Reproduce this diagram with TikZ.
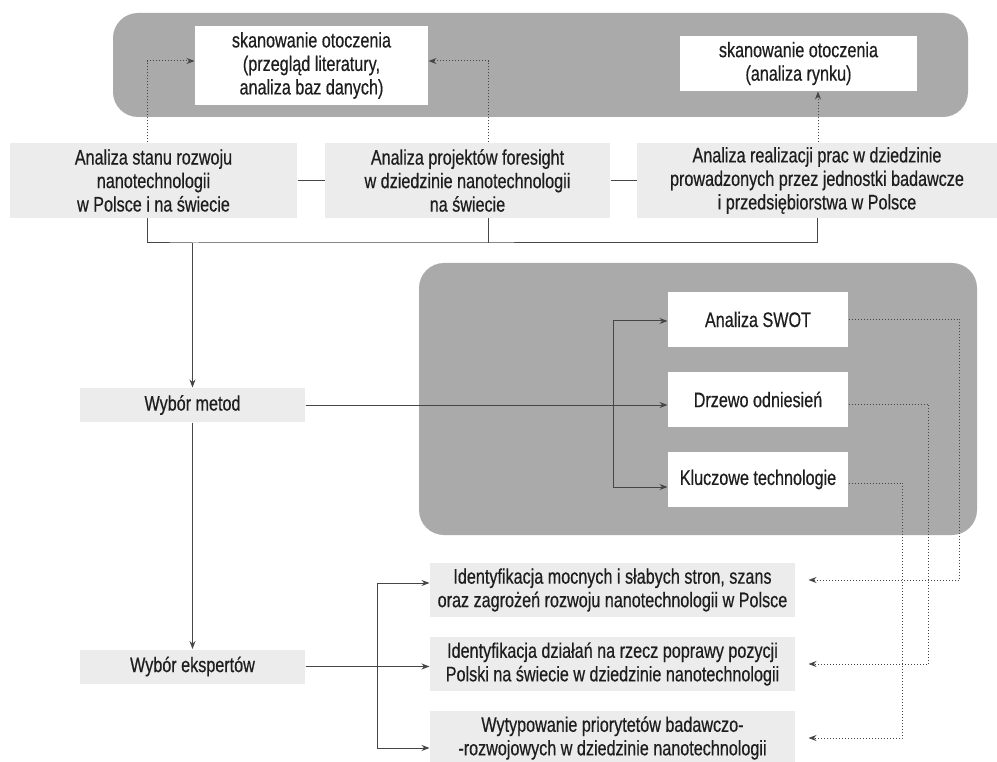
\documentclass[tikz,border=0pt]{standalone}
\usepackage{fontspec}
\setmainfont{Liberation Sans}[FakeStretch=0.77,FakeBold=0.5]
\usetikzlibrary{arrows.meta}
\definecolor{pasek}{RGB}{170,170,170}
\definecolor{jasny}{RGB}{236,236,236}
\definecolor{linia}{RGB}{70,70,70}
\definecolor{tekst}{RGB}{30,30,30}

\begin{document}
\begin{tikzpicture}[x=1pt,y=-1pt,>={Stealth[length=8pt,width=6pt]},
                    line width=1pt,draw=linia]
  \tikzstyle{every node}=[font=\fontsize{21}{23.5}\selectfont,text=tekst,
                          align=center,inner sep=0pt]
  \tikzstyle{bialy}=[fill=white,minimum height=55pt]
  \tikzstyle{blady}=[fill=jasny]
  \tikzstyle{kropki}=[->,dotted,linia]
  \useasboundingbox (0,0) rectangle (997,762);

  % szare tla
  \fill[pasek,rounded corners=25pt] (113,13) rectangle (968,117);
  \fill[pasek,rounded corners=25pt] (419,263) rectangle (977,535);

  \node (s1) [bialy,minimum width=233pt,minimum height=79pt] at (311.5,65.5)
    {skanowanie otoczenia\\(przegląd literatury,\\analiza baz danych)};
  \node (s2) [bialy,minimum width=237pt] at (798.5,63.5)
    {skanowanie otoczenia\\(analiza rynku)};

  \node (a1) [blady,minimum width=287pt,minimum height=75pt] at (153.5,180.5)
    {Analiza stanu rozwoju\\nanotechnologii\\w Polsce i na świecie};
  \node (a2) [blady,minimum width=285pt,minimum height=75pt] at (467.5,180.5)
    {Analiza projektów foresight\\w dziedzinie nanotechnologii\\na świecie};
  \node (a3) [blady,minimum width=360pt,minimum height=75pt] at (817,180.5)
    {Analiza realizacji prac w dziedzinie\\prowadzonych przez jednostki badawcze\\i przedsiębiorstwa w Polsce};

  \node (m) [blady,minimum width=225pt,minimum height=34pt] at (192.5,405) {Wybór metod};
  \node (e) [blady,minimum width=225pt,minimum height=34pt] at (192.5,666.5) {Wybór ekspertów};

  \node (sw) [bialy,minimum width=180pt] at (758,319.5) {Analiza SWOT};
  \node (dr) [bialy,minimum width=180pt] at (758,399.5) {Drzewo odniesień};
  \node (kt) [bialy,minimum width=180pt] at (758,479.5) {Kluczowe technologie};

  \node (i1) [blady,minimum width=365pt,minimum height=54pt] at (612.5,590)
    {Identyfikacja mocnych i słabych stron, szans\\oraz zagrożeń rozwoju nanotechnologii w Polsce};
  \node (i2) [blady,minimum width=365pt,minimum height=54pt] at (612.5,664)
    {Identyfikacja działań na rzecz poprawy pozycji\\Polski na świecie w dziedzinie nanotechnologii};
  \node (i3) [blady,minimum width=365pt,minimum height=54pt] at (612.5,738)
    {Wytypowanie priorytetów badawczo-\\-rozwojowych w dziedzinie nanotechnologii};

  \coordinate (j) at (192.5,243);
  \coordinate (k) at (613,405);
  \coordinate (n) at (377,667);

  \draw (a1) -- (a2);
  \draw (a2) -- (a3);
  \draw ([xshift=-6.5pt]a1.south) |- (j) -| (a3.south);
  \draw ([xshift=20.5pt]a2.south) -- ([xshift=20.5pt]a2.south |- j);
  \draw[->] (j) -- (m);
  \draw[->] (m) -- (e);

  \draw[kropki] ([xshift=-6.5pt]a1.north) |- ([yshift=4.5pt]s1.west);
  \draw[kropki] ([xshift=20.5pt]a2.north) |- ([yshift=4.5pt]s1.east);
  \draw[kropki] ([xshift=1pt]a3.north) -- ([xshift=1pt]a3.north |- s2.south);

  \draw[->] (m.east) -- (m.east -| dr.west);
  \draw[->] (k) |- ([yshift=-1.5pt]sw.west);
  \draw[->] (k) |- ([yshift=-7.5pt]kt.west);

  \draw[->] (e.east) -- (e.east -| i2.west);
  \draw[->] (n) |- ([yshift=7pt]i1.west);
  \draw[->] (n) |- ([yshift=-10pt]i3.west);

  \draw[kropki] (sw.east) -- ++(111,0) |- ([xshift=13pt,yshift=10pt]i1.east);
  \draw[kropki] ([yshift=-4.5pt]dr.east) -- ++(80,0) |- ([xshift=13pt]i2.east);
  \draw[kropki] ([yshift=-3.5pt]kt.east) -- ++(54,0) |- ([xshift=13pt]i3.east);

\end{tikzpicture}
\end{document}
